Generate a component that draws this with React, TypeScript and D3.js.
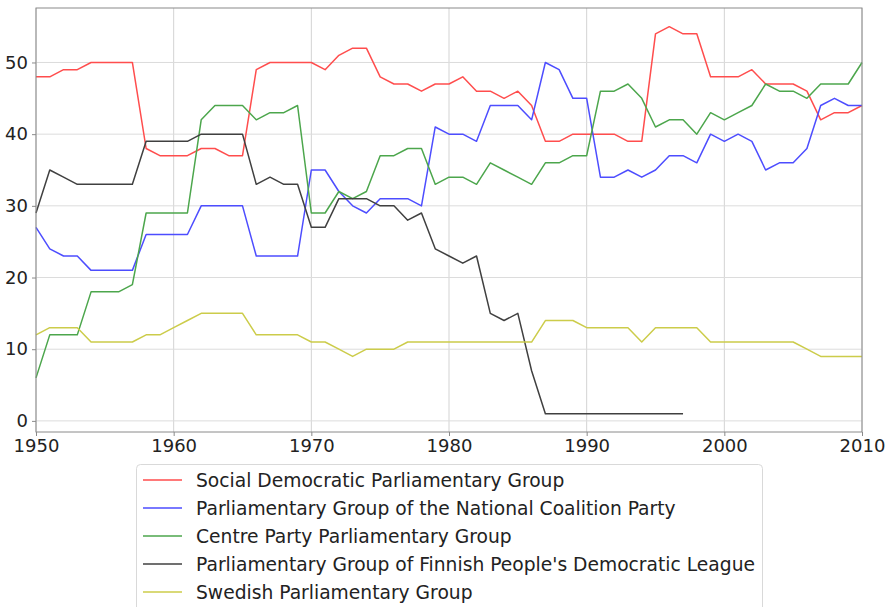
import * as d3 from 'd3';
import React, { useRef, useEffect } from 'react';

const years = [
  1950, 1951, 1952, 1953, 1954, 1955, 1956, 1957, 1958, 1959,
  1960, 1961, 1962, 1963, 1964, 1965, 1966, 1967, 1968, 1969,
  1970, 1971, 1972, 1973, 1974, 1975, 1976, 1977, 1978, 1979,
  1980, 1981, 1982, 1983, 1984, 1985, 1986, 1987, 1988, 1989,
  1990, 1991, 1992, 1993, 1994, 1995, 1996, 1997, 1998, 1999,
  2000, 2001, 2002, 2003, 2004, 2005, 2006, 2007, 2008, 2009,
  2010,
];

const socialDemocratic = [
  48, 48, 49, 49, 50, 50, 50, 50, 38, 37,
  37, 37, 38, 38, 37, 37, 49, 50, 50, 50,
  50, 49, 51, 52, 52, 48, 47, 47, 46, 47,
  47, 48, 46, 46, 45, 46, 44, 39, 39, 40,
  40, 40, 40, 39, 39, 54, 55, 54, 54, 48,
  48, 48, 49, 47, 47, 47, 46, 42, 43, 43,
  44,
];

const nationalCoalition = [
  27, 24, 23, 23, 21, 21, 21, 21, 26, 26,
  26, 26, 30, 30, 30, 30, 23, 23, 23, 23,
  35, 35, 32, 30, 29, 31, 31, 31, 30, 41,
  40, 40, 39, 44, 44, 44, 42, 50, 49, 45,
  45, 34, 34, 35, 34, 35, 37, 37, 36, 40,
  39, 40, 39, 35, 36, 36, 38, 44, 45, 44,
  44,
];

const centreParty = [
  6, 12, 12, 12, 18, 18, 18, 19, 29, 29,
  29, 29, 42, 44, 44, 44, 42, 43, 43, 44,
  29, 29, 32, 31, 32, 37, 37, 38, 38, 33,
  34, 34, 33, 36, 35, 34, 33, 36, 36, 37,
  37, 46, 46, 47, 45, 41, 42, 42, 40, 43,
  42, 43, 44, 47, 46, 46, 45, 47, 47, 47,
  50,
];

// ends in 1997
const democraticLeague = [
  29, 35, 34, 33, 33, 33, 33, 33, 39, 39,
  39, 39, 40, 40, 40, 40, 33, 34, 33, 33,
  27, 27, 31, 31, 31, 30, 30, 28, 29, 24,
  23, 22, 23, 15, 14, 15, 7, 1, 1, 1,
  1, 1, 1, 1, 1, 1, 1, 1,
];

const swedish = [
  12, 13, 13, 13, 11, 11, 11, 11, 12, 12,
  13, 14, 15, 15, 15, 15, 12, 12, 12, 12,
  11, 11, 10, 9, 10, 10, 10, 11, 11, 11,
  11, 11, 11, 11, 11, 11, 11, 14, 14, 14,
  13, 13, 13, 13, 11, 13, 13, 13, 13, 11,
  11, 11, 11, 11, 11, 11, 10, 9, 9, 9,
  9,
];

const seriesNames = [
  'Social Democratic Parliamentary Group',
  'Parliamentary Group of the National Coalition Party',
  'Centre Party Parliamentary Group',
  "Parliamentary Group of Finnish People's Democratic League",
  'Swedish Parliamentary Group',
];

const xTicks = [1950, 1960, 1970, 1980, 1990, 2000, 2010];
const yTicks = [0, 10, 20, 30, 40, 50];

function identifyColor(i) {
  if (i === 0) return '#ff4d4d';
  else if (i === 1) return '#4d4dff';
  else if (i === 2) return '#4ca64c';
  else if (i === 3) return '#404040';
  else return '#cccc4a';
}

function PartyChart() {
  const ref = useRef();
  const width = 888;
  const height = 607;
  const left = 36, right = 862, top = 8, bottom = 432;

  useEffect(() => {
    draw();
  }, []);

  const draw = () => {
    const svg = d3.select(ref.current);
    svg.selectAll('*').remove();
    const font = 'DejaVu Sans, sans-serif';

    const x = d3.scaleLinear().domain([1950, 2010]).range([left, right]);
    const y = d3.scaleLinear().domain([-1.55, 57.6]).range([bottom, top]);

    // grid
    svg.append('g')
      .selectAll('line')
      .data(xTicks)
      .enter()
      .append('line')
      .attr('x1', (d) => x(d)).attr('x2', (d) => x(d))
      .attr('y1', top).attr('y2', bottom)
      .attr('stroke', '#d3d3d3').attr('stroke-width', 1);
    svg.append('g')
      .selectAll('line')
      .data(yTicks)
      .enter()
      .append('line')
      .attr('x1', left).attr('x2', right)
      .attr('y1', (d) => y(d)).attr('y2', (d) => y(d))
      .attr('stroke', '#dcdcdc').attr('stroke-width', 1);

    const all = [socialDemocratic, nationalCoalition, centreParty, democraticLeague, swedish];
    const line = d3.line()
      .x((d) => x(d[0]))
      .y((d) => y(d[1]));

    all.forEach((vals, i) => {
      const pts = vals.map((v, j) => [years[j], v]);
      svg.append('path')
        .datum(pts)
        .attr('d', line)
        .attr('fill', 'none')
        .attr('stroke', identifyColor(i))
        .attr('stroke-width', 1.5)
        .attr('stroke-linejoin', 'round');
    });

    // frame
    svg.append('rect')
      .attr('x', left).attr('y', top)
      .attr('width', right - left).attr('height', bottom - top)
      .attr('fill', 'none').attr('stroke', '#8a8a8a').attr('stroke-width', 1);

    const xAxis = svg.append('g')
      .attr('transform', `translate(0, ${bottom})`)
      .call(d3.axisBottom(x).tickValues(xTicks).tickFormat(d3.format('d')).tickSize(4).tickPadding(3));
    xAxis.select('.domain').remove();
    xAxis.selectAll('line').attr('stroke', '#8a8a8a');
    xAxis.selectAll('text').attr('font-size', 18).attr('font-family', font).attr('fill', '#222');

    const yAxis = svg.append('g')
      .attr('transform', `translate(${left}, 0)`)
      .call(d3.axisLeft(y).tickValues(yTicks).tickSize(4).tickPadding(4));
    yAxis.select('.domain').remove();
    yAxis.selectAll('line').attr('stroke', '#8a8a8a');
    yAxis.selectAll('text').attr('font-size', 18).attr('font-family', font).attr('fill', '#222');

    // legend
    const legend = svg.append('g');
    legend.append('rect')
      .attr('x', 136.5).attr('y', 464.5)
      .attr('width', 626).attr('height', 160)
      .attr('rx', 4)
      .attr('fill', '#fff').attr('stroke', '#d9d9d9');
    seriesNames.forEach((name, i) => {
      const cy = 480 + i * 28;
      legend.append('line')
        .attr('x1', 143).attr('x2', 182)
        .attr('y1', cy).attr('y2', cy)
        .attr('stroke', identifyColor(i)).attr('stroke-width', 1.5);
      legend.append('text')
        .attr('x', 196).attr('y', cy)
        .attr('dy', '0.35em')
        .attr('font-size', 18.7)
        .attr('font-family', font)
        .attr('fill', '#222')
        .text(name);
    });
  };

  return (
    <svg ref={ref} width={width} height={height}
      style={{ position: 'absolute', left: 0, top: 0, background: '#fff' }}>
    </svg>
  );
}

export default function App() {
  return <PartyChart />;
}
